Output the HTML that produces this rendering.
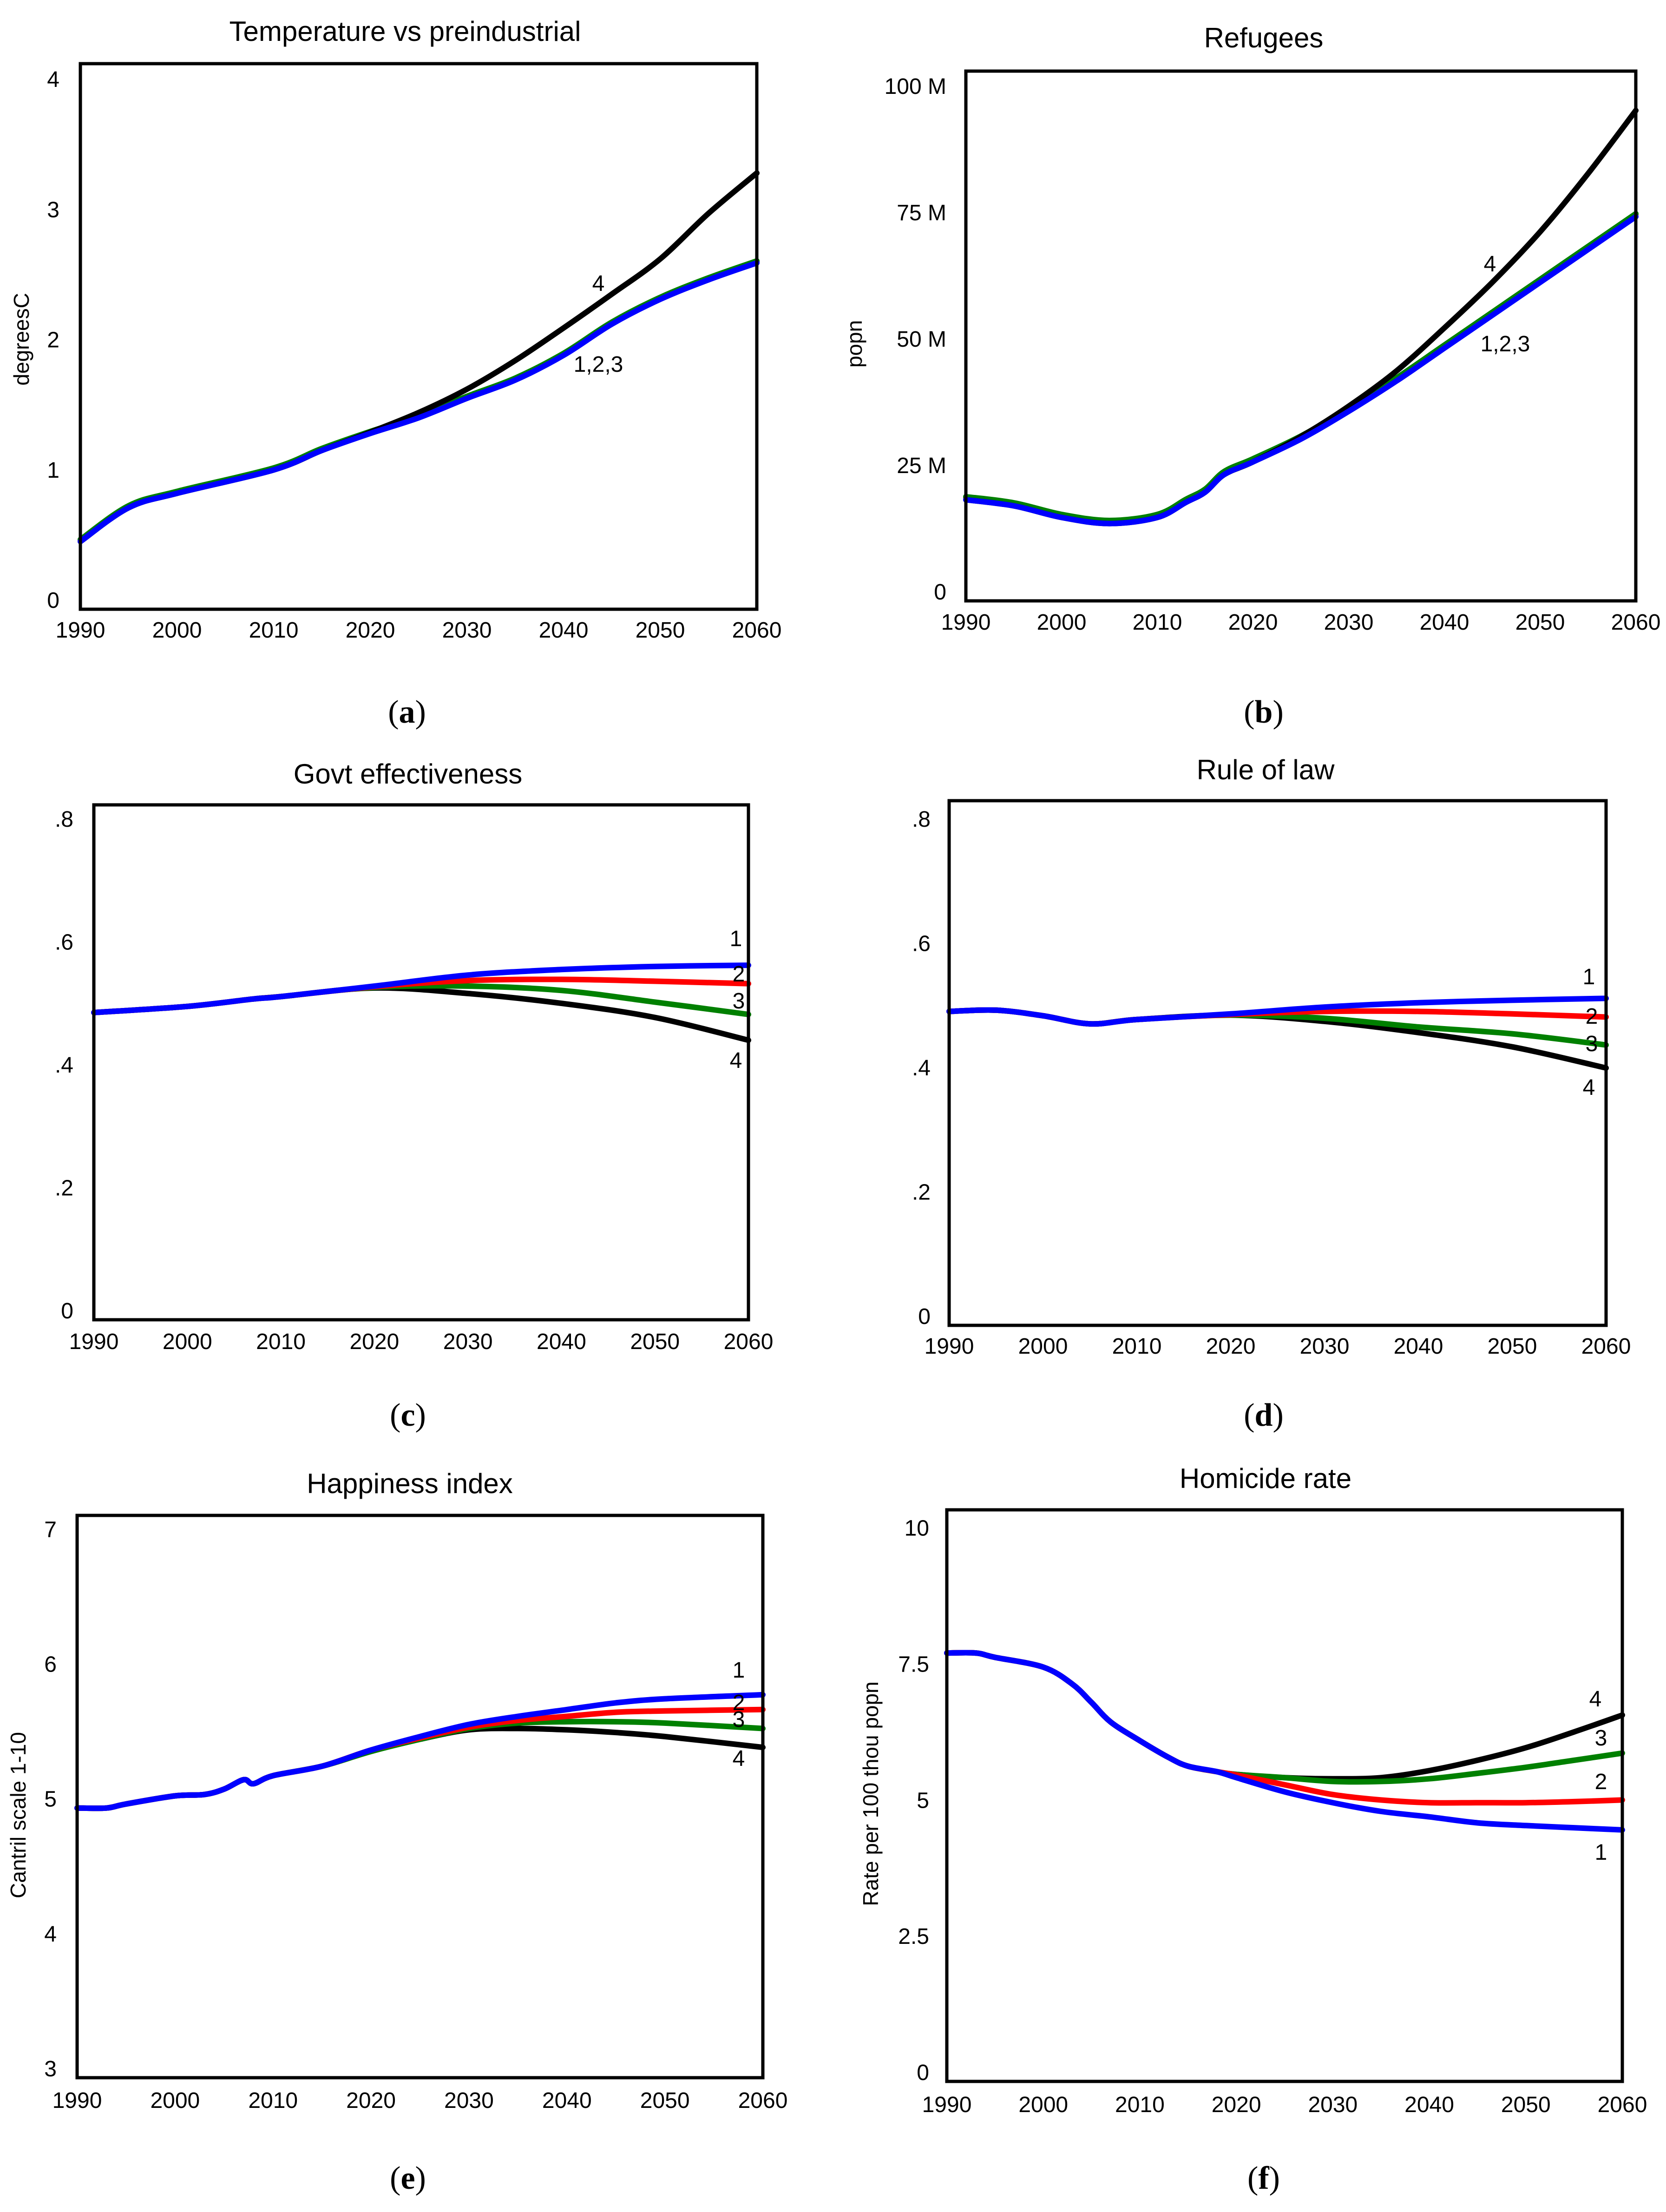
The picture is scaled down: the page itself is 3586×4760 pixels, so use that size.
<!DOCTYPE html>
<html><head><meta charset="utf-8"><style>
html,body{margin:0;padding:0;background:#fff;}
svg{display:block;}
text{font-family:"Liberation Sans",Arial,sans-serif;fill:#000;}
.cap{font-family:"Liberation Serif","Times New Roman",serif;}
</style></head><body>
<svg id="chart" width="3586" height="4760" viewBox="0 0 3586 4760" xmlns="http://www.w3.org/2000/svg"></svg>
<script>
// ---- shared x data ----
const xTicks = [1990,2000,2010,2020,2030,2040,2050,2060];

// ---- (a) Temperature ----
const tempYears = [1990,1995,2000,2010,2015,2020,2025,2030,2035,2040,2045,2050,2055,2060];
const tempBlue  = [0.52,0.78,0.89,1.07,1.22,1.35,1.47,1.62,1.76,1.95,2.19,2.38,2.53,2.66];
const tempBlack = [0.52,0.78,0.89,1.07,1.22,1.36,1.51,1.69,1.91,2.16,2.42,2.69,3.04,3.35];
const tempTicks = [0,1,2,3,4];
const tempTickLabels = ["0","1","2","3","4"];

// ---- (b) Refugees (millions) ----
const refYears = [1990,1995,2000,2005,2010,2013,2015,2017,2020,2025,2030,2035,2040,2045,2050,2055,2060];
const refBlue  = [20,18.8,16.5,15.3,16.5,19.5,21.5,25,27.5,32,37.5,43.5,50,56.5,63,69.5,76];
const refBlack = [20,18.8,16.5,15.3,16.5,19.5,21.5,25,27.5,32.5,38.5,45.5,54,63,73,84.5,97];
const refTicks = [0,25,50,75,100];
const refTickLabels = ["0","25 M","50 M","75 M","100 M"];

// ---- (c) Govt effectiveness ----
const govYears = [1990,2000,2007,2010,2020,2030,2040,2050,2060];
const govBlue  = [0.50,0.51,0.522,0.526,0.543,0.561,0.570,0.575,0.577];
const govRed   = [0.50,0.51,0.522,0.526,0.542,0.552,0.554,0.551,0.547];
const govGreen = [0.50,0.51,0.522,0.526,0.541,0.543,0.536,0.517,0.497];
const govBlack = [0.50,0.51,0.522,0.526,0.540,0.531,0.515,0.492,0.455];
const govTicks = [0,0.2,0.4,0.6,0.8];
const govTickLabels = ["0",".2",".4",".6",".8"];

// ---- (d) Rule of law ----
const lawYears = [1990,1995,2000,2005,2010,2020,2030,2040,2050,2060];
const lawBlue  = [0.505,0.507,0.498,0.485,0.492,0.501,0.512,0.519,0.523,0.526];
const lawRed   = [0.505,0.507,0.498,0.485,0.492,0.500,0.505,0.505,0.501,0.496];
const lawGreen = [0.505,0.507,0.498,0.485,0.492,0.499,0.494,0.480,0.469,0.451];
const lawBlack = [0.505,0.507,0.498,0.485,0.492,0.499,0.489,0.471,0.448,0.414];
const lawTicks = [0,0.2,0.4,0.6,0.8];
const lawTickLabels = ["0",".2",".4",".6",".8"];

// ---- (e) Happiness ----
const hapYears = [1990,1993,1995,2000,2003,2005,2007,2008,2010,2015,2020,2025,2030,2035,2040,2045,2050,2060];
const hapBlue  = [5.00,5.00,5.03,5.09,5.10,5.14,5.21,5.18,5.24,5.31,5.43,5.53,5.62,5.68,5.73,5.78,5.81,5.84];
const hapRed   = [5.00,5.00,5.03,5.09,5.10,5.14,5.21,5.18,5.24,5.31,5.43,5.52,5.60,5.65,5.68,5.71,5.72,5.73];
const hapGreen = [5.00,5.00,5.03,5.09,5.10,5.14,5.21,5.18,5.24,5.31,5.42,5.51,5.59,5.63,5.64,5.64,5.63,5.59];
const hapBlack = [5.00,5.00,5.03,5.09,5.10,5.14,5.21,5.18,5.24,5.31,5.42,5.51,5.58,5.59,5.58,5.56,5.53,5.45];
const hapTicks = [3,4,5,6,7];
const hapTickLabels = ["3","4","5","6","7"];

// ---- (f) Homicide ----
const homYears = [1990,1993,1995,2000,2003,2005,2007,2010,2013,2015,2018,2020,2025,2030,2035,2040,2045,2050,2055,2060];
const homBlue  = [7.87,7.87,7.79,7.61,7.30,6.96,6.60,6.26,5.95,5.79,5.69,5.58,5.32,5.12,4.96,4.86,4.75,4.70,4.66,4.62];
const homRed   = [7.87,7.87,7.79,7.61,7.30,6.96,6.60,6.26,5.95,5.79,5.69,5.63,5.45,5.27,5.17,5.12,5.12,5.12,5.14,5.17];
const homGreen = [7.87,7.87,7.79,7.61,7.30,6.96,6.60,6.26,5.95,5.79,5.69,5.64,5.58,5.51,5.51,5.56,5.66,5.77,5.90,6.03];
const homBlack = [7.87,7.87,7.79,7.61,7.30,6.96,6.60,6.26,5.95,5.79,5.69,5.64,5.58,5.56,5.58,5.71,5.90,6.13,6.42,6.73];
const homTicks = [0,2.5,5,7.5,10];
const homTickLabels = ["0","2.5","5","7.5","10"];

const NS = "http://www.w3.org/2000/svg";
const svg = document.getElementById("chart");
function mk(tag, attrs, parent){
  const e = document.createElementNS(NS, tag);
  for (const k in attrs) e.setAttribute(k, attrs[k]);
  (parent||svg).appendChild(e);
  return e;
}
function smoothPath(pts){
  let d = "M"+pts[0][0].toFixed(1)+","+pts[0][1].toFixed(1);
  for (let i=0;i<pts.length-1;i++){
    const p0 = pts[Math.max(0,i-1)], p1 = pts[i], p2 = pts[i+1], p3 = pts[Math.min(pts.length-1,i+2)];
    const c1x = p1[0]+(p2[0]-p0[0])/6, c1y = p1[1]+(p2[1]-p0[1])/6;
    const c2x = p2[0]-(p3[0]-p1[0])/6, c2y = p2[1]-(p3[1]-p1[1])/6;
    d += " C"+c1x.toFixed(1)+","+c1y.toFixed(1)+" "+c2x.toFixed(1)+","+c2y.toFixed(1)+" "+p2[0].toFixed(1)+","+p2[1].toFixed(1);
  }
  return d;
}

const panels = [
 {id:"a", title:"Temperature vs preindustrial", L:173,R:1629,T:137,B:1311, ymin:0, ymax:4.19,
  years:tempYears, series:[["red",tempBlue.map(v=>v+0.01),"#ff0000"],["green",tempBlue.map(v=>v+0.015),"#008000"],["black",tempBlack,"#000"],["blue",tempBlue,"#0000ff"]],
  ticks:tempTicks, tickLabels:tempTickLabels, yLabRight:128, xLabY:1372, titleY:88, titleX:872, capY:1555, capX:876,
  ytitle:"degreesC", ytX:62, ytY:730,
  labels:[["4",1288,626],["1,2,3",1288,800]]},
 {id:"b", title:"Refugees", L:2079,R:3521,T:153,B:1293, ymin:0, ymax:104.8,
  years:refYears, series:[["red",refBlue.map(v=>v+0.4),"#ff0000"],["green",refBlue.map(v=>v+0.6),"#008000"],["black",refBlack,"#000"],["blue",refBlue,"#0000ff"]],
  ticks:refTicks, tickLabels:refTickLabels, yLabRight:2037, xLabY:1355, titleY:102, titleX:2720, capY:1555, capX:2720,
  ytitle:"popn", ytX:1855, ytY:740,
  labels:[["4",3207,584],["1,2,3",3240,756]]},
 {id:"c", title:"Govt effectiveness", L:202,R:1611,T:1732,B:2840, ymin:0, ymax:0.838,
  years:govYears, series:[["black",govBlack,"#000"],["green",govGreen,"#008000"],["red",govRed,"#ff0000"],["blue",govBlue,"#0000ff"]],
  ticks:govTicks, tickLabels:govTickLabels, yLabRight:158, xLabY:2903, titleY:1686, titleX:878, capY:3068, capX:878,
  labels:[["1",1584,2036],["2",1590,2112],["3",1590,2170],["4",1584,2298]]},
 {id:"d", title:"Rule of law", L:2043,R:3457,T:1723,B:2852, ymin:0, ymax:0.844,
  years:lawYears, series:[["black",lawBlack,"#000"],["green",lawGreen,"#008000"],["red",lawRed,"#ff0000"],["blue",lawBlue,"#0000ff"]],
  ticks:lawTicks, tickLabels:lawTickLabels, yLabRight:2003, xLabY:2913, titleY:1677, titleX:2724, capY:3068, capX:2720,
  labels:[["1",3420,2118],["2",3426,2203],["3",3426,2262],["4",3420,2356]]},
 {id:"e", title:"Happiness index", L:166,R:1642,T:3261,B:4471, ymin:3, ymax:7.17,
  years:hapYears, series:[["black",hapBlack,"#000"],["green",hapGreen,"#008000"],["red",hapRed,"#ff0000"],["blue",hapBlue,"#0000ff"]],
  ticks:hapTicks, tickLabels:hapTickLabels, yLabRight:122, xLabY:4536, titleY:3213, titleX:882, capY:4710, capX:878,
  ytitle:"Cantril scale 1-10", ytX:55, ytY:3906,
  labels:[["1",1590,3610],["2",1590,3680],["3",1590,3716],["4",1590,3800]]},
 {id:"f", title:"Homicide rate", L:2038,R:3492,T:3249,B:4479, ymin:0, ymax:10.5,
  years:homYears, series:[["black",homBlack,"#000"],["green",homGreen,"#008000"],["red",homRed,"#ff0000"],["blue",homBlue,"#0000ff"]],
  ticks:homTicks, tickLabels:homTickLabels, yLabRight:2000, xLabY:4545, titleY:3202, titleX:2724, capY:4710, capX:2720,
  ytitle:"Rate per 100 thou popn", ytX:1890, ytY:3860,
  labels:[["4",3434,3672],["3",3446,3756],["2",3446,3850],["1",3446,4002]]}
];

panels.forEach(p=>{
  const g = mk("g",{});
  
  
  const xs = v => p.L + (v-1990)/(2060-1990)*(p.R-p.L);
  const ys = v => p.B - (v-p.ymin)/(p.ymax-p.ymin)*(p.B-p.T);

  const t = mk("text",{x:p.titleX,y:p.titleY,"font-size":60,"text-anchor":"middle"},g);
  t.textContent = p.title;
  
  

  const sg = mk("g",{},g);
  p.series.forEach(s=>{
    const pts = p.years.map((yr,i)=>[xs(yr), ys(s[1][i])]);
    const path = mk("path",{d:smoothPath(pts),fill:"none",stroke:s[2],"stroke-width":12,"stroke-linejoin":"round","stroke-linecap":"round"},sg);
    
    
  });

  const fr = mk("rect",{x:p.L,y:p.T,width:p.R-p.L,height:p.B-p.T,fill:"none",stroke:"#000","stroke-width":7},g);
  
  

  xTicks.forEach(v=>{
    const tx = mk("text",{x:xs(v),y:p.xLabY,"font-size":48,"text-anchor":"middle"},g);
    tx.textContent = String(v);
    
    
  });
  p.ticks.forEach((v,i)=>{
    const ty = mk("text",{x:p.yLabRight,y:ys(v)-3,"font-size":48,"text-anchor":"end"},g);
    ty.textContent = p.tickLabels[i];
    
    
  });
  if (p.ytitle){
    const yt = mk("text",{x:p.ytX,y:p.ytY,"font-size":46,"text-anchor":"middle",transform:"rotate(-90 "+p.ytX+" "+p.ytY+")"},g);
    yt.textContent = p.ytitle;
    
    
  }
  p.labels.forEach(l=>{
    const lt = mk("text",{x:l[1],y:l[2],"font-size":48,"text-anchor":"middle"},g);
    lt.textContent = l[0];
    
    
  });
  const cap = mk("text",{x:p.capX,y:p.capY,"font-size":70,"text-anchor":"middle","class":"cap"},g);
  cap.innerHTML = '(<tspan font-weight="bold">'+p.id+'</tspan>)';
  
  
});
</script>
</body></html>
